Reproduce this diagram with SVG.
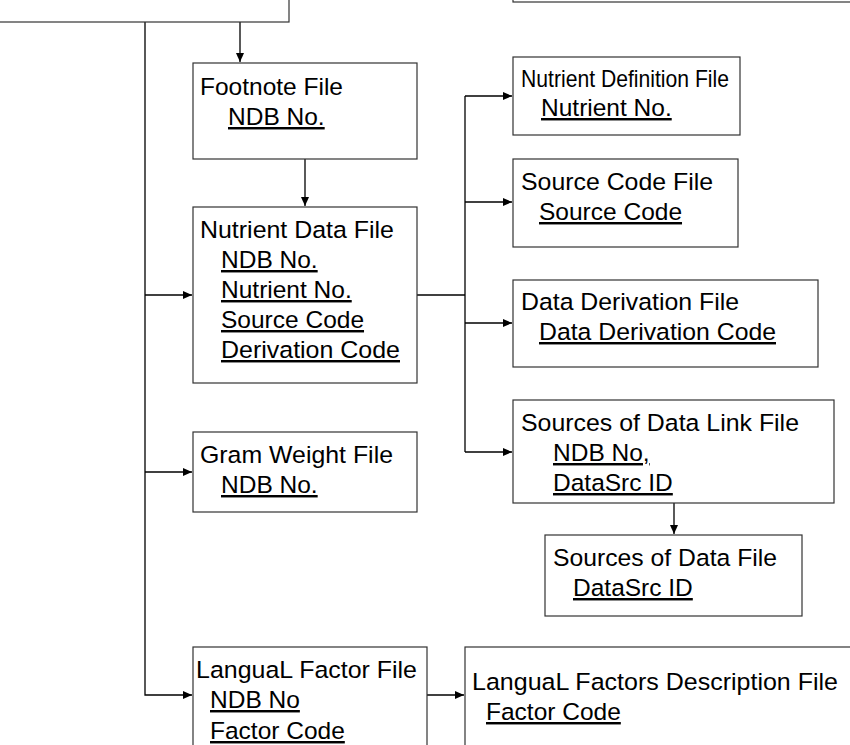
<svg xmlns="http://www.w3.org/2000/svg" width="850" height="745" viewBox="0 0 850 745">
<style>
rect{fill:#fff;stroke:#333;stroke-width:1.2}
text{font-family:"Liberation Sans",Arial,sans-serif;font-size:24.5px;fill:#000}
.k{text-decoration:underline}
.c{fill:none;stroke:#000;stroke-width:1.3}
</style>
<defs><marker id="a" markerWidth="10" markerHeight="10" refX="9" refY="5" orient="auto" markerUnits="userSpaceOnUse"><path d="M0,1 L9,5 L0,9 Z" fill="#000"/></marker></defs>
<g id="connectors">
<path class="c" d="M145,22 V695 H192" marker-end="url(#a)"/>
<path class="c" d="M145,295 H192" marker-end="url(#a)"/>
<path class="c" d="M145,472 H192" marker-end="url(#a)"/>
<path class="c" d="M240,22 V62" marker-end="url(#a)"/>
<path class="c" d="M305,159 V206" marker-end="url(#a)"/>
<path class="c" d="M417,295 H465"/>
<path class="c" d="M465,96 V452"/>
<path class="c" d="M465,96 H512" marker-end="url(#a)"/>
<path class="c" d="M465,202 H512" marker-end="url(#a)"/>
<path class="c" d="M465,323 H512" marker-end="url(#a)"/>
<path class="c" d="M465,452 H512" marker-end="url(#a)"/>
<path class="c" d="M674,503 V534" marker-end="url(#a)"/>
<path class="c" d="M427,695 H464" marker-end="url(#a)"/>
</g>
<g id="top-left"><rect x="-2" y="-10" width="291" height="32"/></g>
<g id="top-right"><rect x="513" y="-10" width="345" height="12"/></g>
<g id="footnote"><rect x="193" y="63" width="224" height="96"/><text x="200" y="95">Footnote File</text><text class="k" x="228" y="125">NDB No.</text></g>
<g id="nutrient-data"><rect x="193" y="207" width="224" height="176"/><text x="200" y="238" textLength="194" lengthAdjust="spacingAndGlyphs">Nutrient Data File</text><text class="k" x="221" y="268">NDB No.</text><text class="k" x="221" y="298">Nutrient No.</text><text class="k" x="221" y="328">Source Code</text><text class="k" x="221" y="358" textLength="179" lengthAdjust="spacingAndGlyphs">Derivation Code</text></g>
<g id="gram-weight"><rect x="193" y="432" width="224" height="80"/><text x="200" y="463" textLength="193" lengthAdjust="spacingAndGlyphs">Gram Weight File</text><text class="k" x="221" y="493">NDB No.</text></g>
<g id="langual"><rect x="193" y="647" width="234" height="110"/><text x="196" y="678" textLength="221" lengthAdjust="spacingAndGlyphs">LanguaL Factor File</text><text class="k" x="210" y="708">NDB No</text><text class="k" x="210" y="739">Factor Code</text></g>
<g id="langual-desc"><rect x="465" y="647" width="395" height="110"/><text x="472" y="690" textLength="366" lengthAdjust="spacingAndGlyphs">LanguaL Factors Description File</text><text class="k" x="486" y="720">Factor Code</text></g>
<g id="nutrient-def"><rect x="513" y="57" width="227" height="78"/><text x="521" y="87" textLength="208" lengthAdjust="spacingAndGlyphs">Nutrient Definition File</text><text class="k" x="541" y="116">Nutrient No.</text></g>
<g id="source-code"><rect x="513" y="159" width="225" height="88"/><text x="521" y="190" textLength="192" lengthAdjust="spacingAndGlyphs">Source Code File</text><text class="k" x="539" y="220">Source Code</text></g>
<g id="data-deriv"><rect x="513" y="280" width="305" height="87"/><text x="521" y="310" textLength="218" lengthAdjust="spacingAndGlyphs">Data Derivation File</text><text class="k" x="539" y="340" textLength="237" lengthAdjust="spacingAndGlyphs">Data Derivation Code</text></g>
<g id="src-link"><rect x="513" y="400" width="321" height="103"/><text x="521" y="431" textLength="278" lengthAdjust="spacingAndGlyphs">Sources of Data Link File</text><text class="k" x="553" y="461">NDB No,</text><text class="k" x="553" y="491">DataSrc ID</text></g>
<g id="src-data"><rect x="545" y="535" width="257" height="81"/><text x="553" y="566" textLength="224" lengthAdjust="spacingAndGlyphs">Sources of Data File</text><text class="k" x="573" y="596">DataSrc ID</text></g>
</svg>
